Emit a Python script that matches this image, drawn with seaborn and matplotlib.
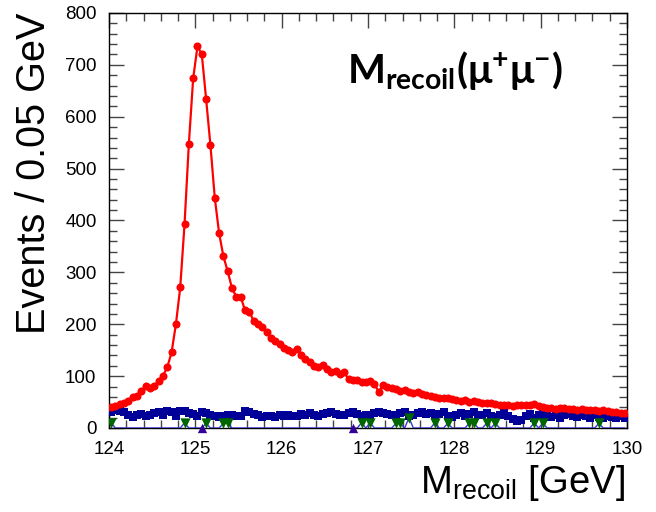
import numpy as np
import pandas as pd
import matplotlib
matplotlib.use("Agg")
import matplotlib.pyplot as plt
from matplotlib.ticker import MultipleLocator
import seaborn as sns

# Recoil-mass histogram, 0.05 GeV bins from 124 to 130 GeV
bin_edges_lo = 124.0
bin_width = 0.05
n_bins = 120
mass = bin_edges_lo + bin_width * (np.arange(n_bins) + 0.5)

# Signal (ZH, Z -> mu mu)
signal = [
    40, 43, 46, 49, 53, 60, 62, 71, 81, 78,
    81, 91, 101, 117, 146, 200, 271, 393, 548, 674,
    736, 720, 634, 545, 444, 376, 331, 302, 269, 253,
    253, 227, 224, 207, 200, 195, 186, 174, 168, 162,
    155, 150, 147, 152, 141, 133, 127, 120, 117, 121,
    114, 108, 110, 105, 107, 94, 93, 92, 88, 89,
    90, 84, 70, 83, 80, 77, 75, 72, 73, 70,
    68, 69, 66, 64, 61, 60, 58, 57, 58, 55,
    54, 53, 54, 51, 52, 50, 48, 49, 48, 46,
    44, 45, 44, 43, 44, 45, 44, 45, 46, 42,
    40, 38, 39, 37, 38, 38, 36, 37, 35, 36,
    35, 34, 35, 33, 34, 32, 31, 30, 29, 28,
]

# Dominant background
background = [
    30, 35, 33, 30, 26, 22, 25, 27, 24, 26,
    28, 31, 26, 33, 30, 24, 32, 33, 28, 27,
    24, 31, 29, 25, 23, 22, 24, 25, 26, 23,
    24, 32, 30, 27, 25, 22, 24, 23, 22, 26,
    24, 25, 23, 24, 27, 26, 28, 25, 23, 27,
    29, 30, 27, 25, 26, 28, 30, 27, 24, 25,
    26, 29, 30, 28, 27, 25, 23, 28, 31, 24,
    26, 28, 30, 27, 29, 25, 27, 30, 24, 21,
    26, 28, 23, 27, 31, 25, 26, 29, 24, 22,
    25, 30, 23, 18, 14, 16, 24, 27, 20, 25,
    28, 24, 22, 26, 19, 25, 27, 23, 21, 25,
    24, 20, 26, 22, 19, 24, 21, 20, 23, 19,
]

# Small background (sparse)
minor_bkg = np.zeros(n_bins)
minor_bins = [0, 17, 22, 26, 27, 58, 60, 66, 67, 69, 75, 78, 83, 84,
              87, 89, 98, 100, 113]
minor_vals = [10, 10, 9, 9, 9, 10, 10, 9, 9, 20, 10, 9, 10, 10,
              9, 9, 10, 9, 9]
minor_bkg[minor_bins] = minor_vals

# Rare background entries
rare_mass = [125.075, 126.825]
rare_events = [0, 0]

x_ticks = [124, 125, 126, 127, 128, 129, 130]
y_ticks = [0, 100, 200, 300, 400, 500, 600, 700, 800]

sns.set_style("ticks")
plt.rcParams["font.family"] = ["Liberation Sans", "DejaVu Sans"]
plt.rcParams["text.color"] = "black"
plt.rcParams["axes.labelcolor"] = "black"
plt.rcParams["xtick.color"] = "black"
plt.rcParams["ytick.color"] = "black"
plt.rcParams["mathtext.fontset"] = "custom"
plt.rcParams["mathtext.rm"] = "Liberation Sans"
plt.rcParams["mathtext.it"] = "Liberation Sans:italic"
plt.rcParams["mathtext.bf"] = "Lato:bold"

fig = plt.figure(figsize=(6.56, 5.12), dpi=100)
ax = fig.add_axes([109 / 656, 1 - 428 / 512, 518 / 656, 415 / 512])

df = pd.DataFrame({"mass": mass, "signal": signal,
                   "background": background, "minor": minor_bkg})

# background squares
sns.lineplot(data=df, x="mass", y="background", ax=ax, color="#000099",
             linewidth=1.4, marker="s", markersize=6.0, markeredgewidth=0,
             zorder=3)
# sparse background: thin line down to zero plus triangles where filled
sns.lineplot(data=df, x="mass", y="minor", ax=ax, color="#3a3ad6",
             linewidth=1.0, zorder=4)
filled = df[df["minor"] > 0]
sns.scatterplot(data=filled, x="mass", y="minor", ax=ax, color="#006600",
                marker="v", s=55, linewidth=0, zorder=5)
sns.scatterplot(x=rare_mass, y=rare_events, ax=ax, color="#330099",
                marker="^", s=45, linewidth=0, zorder=5, clip_on=False)
# signal
sns.lineplot(data=df, x="mass", y="signal", ax=ax, color="#ff0000",
             linewidth=1.6, marker="o", markersize=5.8, markeredgewidth=0,
             zorder=6)

ax.set_xlim(124, 130)
ax.set_ylim(0, 800)
ax.set_xticks(x_ticks)
ax.set_yticks(y_ticks)
ax.xaxis.set_minor_locator(MultipleLocator(0.2))
ax.yaxis.set_minor_locator(MultipleLocator(20))
ax.tick_params(which="both", direction="in", top=True, right=True,
               color="#444444", width=1.0)
ax.tick_params(which="major", length=11, labelsize=13.5, labelcolor="black")
ax.tick_params(which="minor", length=5.5)
ax.tick_params(axis="x", which="major", pad=9)
ax.tick_params(axis="y", which="major", pad=9)
for sp in ax.spines.values():
    sp.set_linewidth(1.0)
    sp.set_color("black")

ax.set_xlabel(r"$\mathrm{M}_{\mathrm{recoil}}$ [GeV]", fontsize=27.5,
              loc="right", color="black")
ax.xaxis.set_label_coords(0.996, -0.085)
ax.set_ylabel("Events / 0.05 GeV", fontsize=28.5, loc="top", color="black")
ax.yaxis.set_label_coords(-0.108, 1.0)

ax.text(0.459, 0.831, r"$\mathbf{M}_{\mathbf{recoil}}\mathbf{(\mu^{+}\mu^{-})}$",
        transform=ax.transAxes, fontsize=29, ha="left", va="baseline",
        color="black")

fig.savefig("out.png", dpi=100)
